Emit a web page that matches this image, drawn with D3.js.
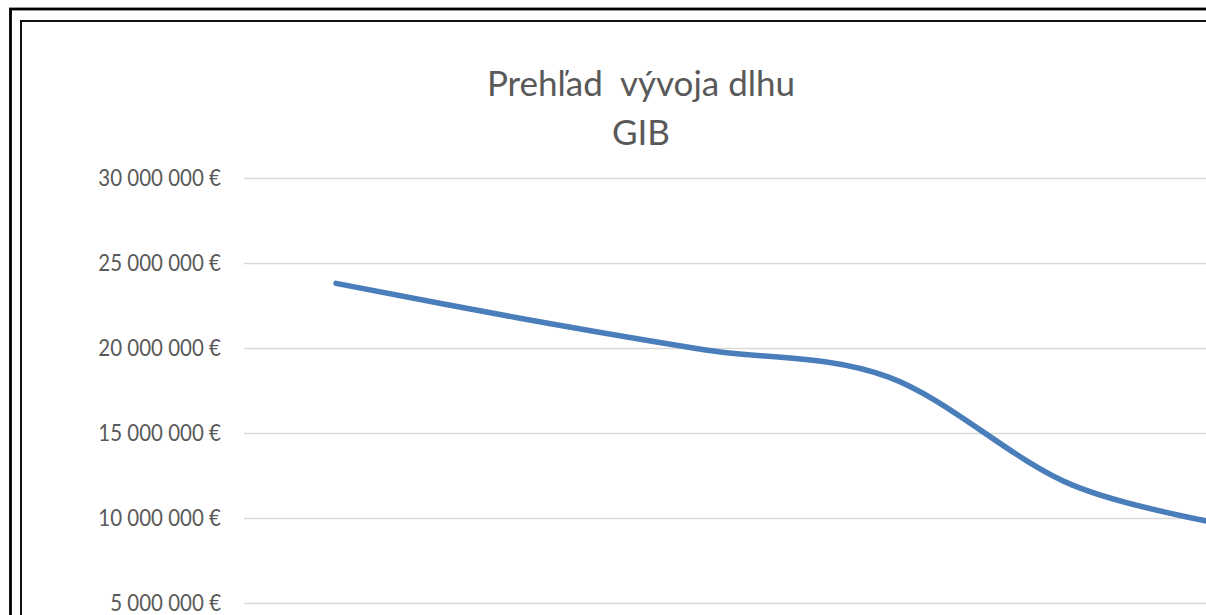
<!DOCTYPE html>
<html lang="sk">
<head>
  <meta charset="UTF-8">
  <title>Prehľad vývoja dlhu GIB</title>
  <script src="https://cdn.jsdelivr.net/npm/d3@7"></script>
  <style>
    body { margin: 0; background: #fff; overflow: hidden; }
    text { font-family: Lato, "Open Sans", sans-serif; fill: #595959; }
  </style>
</head>
<body>
  <svg width="1206" height="615"></svg>
  <script>
    // data (x axis labels are outside the visible crop)
    var categories = ['1', '2', '3', '4', '5', '6']
    var debt = [23800000, 21750000, 19900000, 18300000, 11950000, 9300000]
    var yTicks = [5000000, 10000000, 15000000, 20000000, 25000000, 30000000]
    var titleLines = ['Prehľad  vývoja dlhu', 'GIB']

    var svg = d3.select('svg')

    // chart frame (double border, cropped on the right and bottom)
    svg.append('rect')
      .attr('x', 10.5).attr('y', 9)
      .attr('width', 1400).attr('height', 800)
      .attr('fill', 'none').attr('stroke', '#000').attr('stroke-width', 2.8)
    svg.append('rect')
      .attr('x', 21).attr('y', 21)
      .attr('width', 1400).attr('height', 800)
      .attr('fill', 'none').attr('stroke', '#111').attr('stroke-width', 2)

    var plot = { left: 244, right: 1348, top: 178, bottom: 688 }

    var x = d3.scalePoint()
      .domain(categories)
      .range([plot.left, plot.right])
      .padding(0.5)

    var y = d3.scaleLinear()
      .domain([0, 30000000])
      .range([plot.bottom, plot.top])

    var fmt = function (v) {
      return d3.format(',')(v).replace(/,/g, ' ') + ' €'
    }

    // gridlines + labels
    var yAxis = d3.axisLeft(y)
      .tickValues(yTicks)
      .tickSize(-(plot.right - plot.left))
      .tickPadding(23)
      .tickFormat(fmt)

    var ga = svg.append('g')
      .attr('transform', 'translate(' + plot.left + ',0)')
      .call(yAxis)
    ga.select('.domain').remove()
    ga.selectAll('.tick line')
      .attr('stroke', '#d9d9d9')
      .attr('stroke-width', 1.6)
    ga.selectAll('.tick text')
      .attr('font-size', 20.5)
      .attr('dy', '0.34em')
      .attr('transform', 'scale(1,1.12)')
      .style('font-family', 'Lato, sans-serif')
      .attr('fill', '#595959')

    // title
    svg.append('g')
      .selectAll('text')
      .data(titleLines)
      .enter()
      .append('text')
      .attr('x', 641)
      .attr('y', (d, i) => 96 + i * 49)
      .attr('text-anchor', 'middle')
      .attr('font-size', 35)
      .style('white-space', 'pre')
      .text(d => d)

    // smoothed line
    var line = d3.line()
      .x((d, i) => x(categories[i]))
      .y(d => y(d))
      .curve(d3.curveCardinal.tension(0))

    svg.append('path')
      .datum(debt)
      .attr('d', line)
      .attr('fill', 'none')
      .attr('stroke', '#4a7ebb')
      .attr('stroke-width', 5.5)
      .attr('stroke-linecap', 'round')
      .attr('stroke-linejoin', 'round')
  </script>
</body>
</html>
